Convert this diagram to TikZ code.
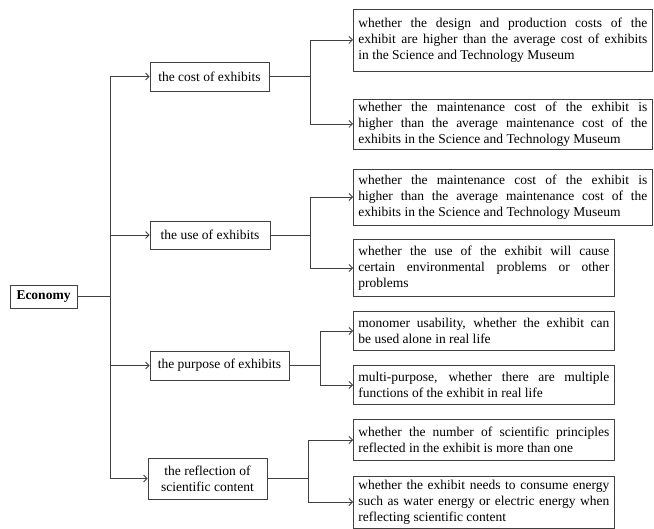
\documentclass[tikz,border=0pt]{standalone}
\usepackage{fontspec}
\setmainfont{Liberation Serif}
\usetikzlibrary{arrows.meta}
\hyphenpenalty=10000
\exhyphenpenalty=10000
\begin{document}
\begin{tikzpicture}[x=1pt,y=-1pt,
 box/.style={draw=black!75, line width=0.8pt, inner xsep=5pt, inner ysep=3pt,
   font=\fontsize{13.5}{15.8}\selectfont},
 leaf/.style={box, anchor=west, align=justify},
 mid/.style={box, anchor=center, align=center},
 arr/.style={draw=black!75, line width=0.8pt, -{Straight Barb[length=3.5pt,width=7pt]}},
 ln/.style={draw=black!75, line width=0.8pt}]
\useasboundingbox (0,0) rectangle (654,529);

% root
\node[box, font=\fontsize{13.5}{15.8}\selectfont\bfseries, minimum width=67pt, minimum height=23pt] (root) at (43.5,296.5) {Economy};

% middle level
\node[mid, minimum width=119pt, minimum height=29pt] (m1) at (209.5,76.5) {the cost of exhibits};
\node[mid, minimum width=120pt, minimum height=28pt] (m2) at (210,235) {the use of exhibits};
\node[mid, minimum width=139pt, minimum height=29pt] (m3) at (219.5,365.5) {the purpose of exhibits};
\node[mid, minimum width=119pt, minimum height=41pt] (m4) at (207.5,478.5) {the reflection of\\scientific content};

% leaves
\node[leaf, text width=289pt, minimum height=62pt] (b1) at (353,40) {whether the design and production costs of the\linebreak exhibit are higher than the average cost of exhibits\linebreak in the Science and Technology Museum};
\node[leaf, text width=289pt, minimum height=48pt] (b2) at (353,124) {whether the maintenance cost of the exhibit is\linebreak higher than the average maintenance cost of the\linebreak exhibits in the Science and Technology Museum};
\node[leaf, text width=289pt, minimum height=56pt] (b3) at (353,197) {whether the maintenance cost of the exhibit is\linebreak higher than the average maintenance cost of the\linebreak exhibits in the Science and Technology Museum};
\node[leaf, text width=251pt, minimum height=57pt] (b4) at (353,268) {whether the use of the exhibit will cause\linebreak certain environmental problems or other\linebreak problems};
\node[leaf, text width=251pt, minimum height=39pt] (b5) at (353,331) {monomer usability, whether the exhibit can\linebreak be used alone in real life};
\node[leaf, text width=251pt, minimum height=39pt] (b6) at (353,385) {multi-purpose, whether there are multiple\linebreak functions of the exhibit in real life};
\node[leaf, text width=251pt, minimum height=41pt] (b7) at (353,440) {whether the number of scientific principles\linebreak reflected in the exhibit is more than one};
\node[leaf, text width=251pt, minimum height=52pt] (b8) at (353,502) {whether the exhibit needs to consume energy\linebreak such as water energy or electric energy when\linebreak reflecting scientific content};

% junction points
\coordinate (t) at ([xshift=33pt]root.east);
\coordinate (s1) at ([xshift=41pt]m1.east);
\coordinate (s2) at ([xshift=40pt]m2.east);
\coordinate (s3) at ([xshift=31pt]m3.east);
\coordinate (s4) at ([xshift=41pt]m4.east);

% connectors
\draw[ln] (root.east) -- (t);
\draw[arr] (t) |- (m1.west);
\draw[arr] (t) |- (m2.west);
\draw[arr] (t) |- (m3.west);
\draw[arr] (t) |- (m4.west);

\draw[ln] (m1.east) -- (s1);
\draw[arr] (s1) |- (b1.west);
\draw[arr] (s1) |- (b2.west);
\draw[ln] (m2.east) -- (s2);
\draw[arr] (s2) |- (b3.west);
\draw[arr] (s2) |- (b4.west);
\draw[ln] (m3.east) -- (s3);
\draw[arr] (s3) |- (b5.west);
\draw[arr] (s3) |- (b6.west);
\draw[ln] (m4.east) -- (s4);
\draw[arr] (s4) |- (b7.west);
\draw[arr] (s4) |- (b8.west);
\end{tikzpicture}
\end{document}
